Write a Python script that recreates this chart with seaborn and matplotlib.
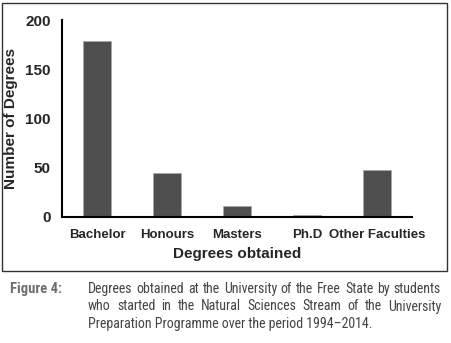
import matplotlib
matplotlib.use("Agg")
import matplotlib.pyplot as plt
import seaborn as sns
import pandas as pd
from matplotlib.patches import Rectangle
from matplotlib import font_manager

# data
degrees = ["Bachelor", "Honours", "Masters", "Ph.D", "Other Faculties"]
counts = [179, 45, 11, 2, 48]
yticks = [0, 50, 100, 150, 200]

caption_label = "Figure 4:"
caption_lines = [
    "Degrees obtained at the University of the Free State by students",
    "who started in the Natural Sciences Stream of the University",
    "Preparation Programme over the period 1994\u20132014.",
]

df = pd.DataFrame({"degree": degrees, "count": counts})

sns.set_style("white")
plt.rcParams["font.family"] = ["Liberation Sans", "DejaVu Sans"]


def pick_font(names):
    for n in names:
        try:
            font_manager.findfont(n, fallback_to_default=False)
            return n
        except Exception:
            pass
    return "Liberation Sans"


cap_family = pick_font(["Liberation Sans Narrow", "Roboto Condensed", "Liberation Sans"])

fig = plt.figure(figsize=(4.51, 3.43), dpi=100)
ax = fig.add_axes([62 / 451, 1 - 217 / 343, 350 / 451, 197 / 343])

sns.barplot(data=df, x="degree", y="count", color="#4f4f4f", width=0.4,
            edgecolor="#a8a8a8", linewidth=0.6, saturation=1, ax=ax)

ax.set_ylim(0, 200)
ax.set_xlim(-0.5, len(degrees) - 0.5)
ax.set_yticks(yticks)
ax.set_yticklabels([str(v) for v in yticks], fontsize=11, fontweight="bold")
ax.set_xticks(range(len(degrees)))
ax.set_xticklabels(degrees, fontsize=9.5, fontweight="bold")
ax.set_xticks([i - 0.5 for i in range(len(degrees) + 1)], minor=True)
ax.tick_params(axis="x", which="major", length=0, pad=9)
ax.tick_params(axis="x", which="minor", length=3, width=1.2, direction="out", color="black")
ax.tick_params(axis="y", length=3, width=1.2, direction="out", color="black", pad=5)
sns.despine(ax=ax)
for s in ["left", "bottom"]:
    ax.spines[s].set_color("black")
    ax.spines[s].set_linewidth(1.5)

ax.set_xlabel("Degrees obtained", fontsize=11, fontweight="bold", labelpad=4)
ax.set_ylabel("Number of Degrees", fontsize=11, fontweight="bold", labelpad=5)

# box around the chart
fig.patches.append(Rectangle((2 / 451, 1 - 271 / 343), 445 / 451, 268 / 343,
                             transform=fig.transFigure, fill=False,
                             edgecolor="#333333", linewidth=1.0))

# caption
cap_size = 10
fig.text(10 / 451, 1 - 293 / 343, caption_label, fontsize=cap_size + 0.5, fontweight="bold",
         color="#6e6e6e", family=cap_family, va="baseline")

renderer = fig.canvas.get_renderer()
x0, x1 = 88, 441
for i, line in enumerate(caption_lines):
    y = 1 - (293 + 17.5 * i) / 343
    words = line.split(" ")
    if i == len(caption_lines) - 1:
        fig.text(x0 / 451, y, line, fontsize=cap_size, color="#444444",
                 family=cap_family, va="baseline")
        continue
    # justify: measure words, spread gaps evenly
    texts = [fig.text(0, y, w, fontsize=cap_size, color="#444444",
                      family=cap_family, va="baseline") for w in words]
    widths = [t.get_window_extent(renderer).width for t in texts]
    gap = (x1 - x0 - sum(widths)) / (len(words) - 1)
    x = x0
    for t, w in zip(texts, widths):
        t.set_x(x / 451)
        x += w + gap

fig.savefig("out.png", dpi=100)
